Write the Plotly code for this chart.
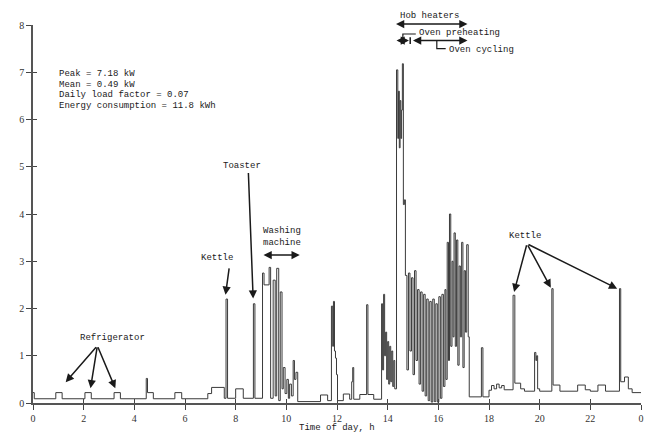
import plotly.graph_objects as go

# ---- data: time of day (h) and power (kW), step profile ----
t_h = [0.00, 0.05, 0.90, 1.15, 2.05, 2.30, 3.20, 3.45, 4.47, 4.52, 4.75, 5.60, 5.87,
       6.90, 7.05, 7.55, 7.62, 7.68, 8.00, 8.30, 8.70, 8.76,
       9.06, 9.12, 9.32, 9.38, 9.48, 9.56, 9.62, 9.70, 9.76, 9.83, 9.88, 9.95, 10.02,
       10.08, 10.13, 10.20, 10.27, 10.32, 10.38, 10.45,
       11.35, 11.63, 11.78, 11.83, 11.86, 11.90, 11.94, 11.98, 12.02,
       12.25, 12.50, 12.58, 12.62, 12.66, 12.90, 13.17, 13.22, 13.45,
       13.76, 13.80, 13.84, 13.88, 13.92, 13.96, 14.00, 14.04, 14.08, 14.12, 14.16,
       14.20, 14.24, 14.28,
       14.35, 14.40, 14.43, 14.46, 14.49, 14.52, 14.55, 14.58, 14.62, 14.66,
       14.70, 14.76, 14.82, 14.88, 14.94, 15.00, 15.06, 15.12, 15.18, 15.24, 15.30,
       15.36, 15.42, 15.48, 15.54, 15.60, 15.66, 15.72, 15.78, 15.84, 15.90, 15.96,
       16.02, 16.08, 16.14, 16.20, 16.26, 16.30,
       16.35, 16.40, 16.44, 16.49, 16.54, 16.58, 16.62, 16.67, 16.72, 16.77, 16.82,
       16.87, 16.92, 16.97, 17.02, 17.07, 17.12, 17.18,
       17.22, 17.70, 17.76,
       18.00, 18.10, 18.20, 18.30, 18.40, 18.50, 18.60, 18.95, 19.02, 19.25, 19.40,
       19.80, 19.85, 19.88, 19.92, 20.00, 20.48, 20.53, 20.80, 21.50, 21.80, 22.00,
       22.30, 22.60, 23.15, 23.20, 23.35, 23.50, 23.65, 24.00]
power_kw = [0.22, 0.09, 0.22, 0.09, 0.22, 0.09, 0.22, 0.09, 0.52, 0.22, 0.09, 0.22, 0.09,
            0.20, 0.33, 0.10, 2.20, 0.10, 0.30, 0.10, 2.10, 0.10,
            2.75, 2.50, 2.87, 0.10, 2.60, 0.15, 2.85, 0.05, 2.35, 0.30, 0.75, 0.20, 0.50,
            0.10, 0.40, 0.15, 0.90, 0.50, 0.65, 0.03,
            0.17, 0.05, 2.05, 1.20, 2.15, 1.10, 0.95, 0.60, 0.05,
            0.19, 0.08, 0.45, 0.75, 0.08, 0.18, 2.08, 0.18, 0.08,
            2.10, 0.70, 2.30, 1.00, 1.50, 0.50, 1.30, 0.40, 1.20, 0.45, 1.10,
            0.35, 0.90, 0.30,
            7.05, 5.60, 6.60, 5.40, 6.40, 5.60, 6.20, 7.18, 4.20, 4.30,
            2.70, 0.70, 2.75, 1.10, 2.65, 0.60, 2.80, 0.90, 2.40, 0.40, 2.35,
            0.25, 2.30, 0.15, 2.20, 0.05, 2.15, 0.02, 2.20, 0.03, 2.10, 0.02,
            2.25, 0.10, 2.30, 0.35, 2.40, 0.50,
            3.40, 0.90, 4.00, 1.20, 3.00, 1.40, 3.60, 1.20, 3.45, 0.80, 2.90,
            1.40, 3.40, 0.75, 2.80, 1.50, 3.35, 1.40,
            0.13, 1.17, 0.13,
            0.27, 0.37, 0.30, 0.40, 0.32, 0.37, 0.28, 2.28, 0.42, 0.30, 0.25,
            1.07, 0.90, 1.00, 0.30, 0.25, 2.42, 0.38, 0.25, 0.38, 0.28, 0.25,
            0.38, 0.25, 2.42, 0.45, 0.55, 0.30, 0.22, 0.22]

x_tick_vals = [0, 2, 4, 6, 8, 10, 12, 14, 16, 18, 20, 22, 24]
x_tick_text = ["0", "2", "4", "6", "8", "10", "12", "14", "16", "18", "20", "22", "0"]
y_tick_vals = [0, 1, 2, 3, 4, 5, 6, 7, 8]

stats_lines = ["Peak = 7.18 kW", "Mean = 0.49 kW", "Daily load factor = 0.07",
               "Energy consumption = 11.8 kWh"]

MONO = "Liberation Mono, Courier New, monospace"
SERIF = "Liberation Serif, Times New Roman, serif"
INK = "#1a1a1a"

fig = go.Figure()
fig.add_trace(go.Scatter(x=t_h, y=power_kw, mode="lines", line_shape="hv",
                         line=dict(color="#3a3a3a", width=1.0), showlegend=False,
                         hoverinfo="skip"))
# empty helper trace so the inner-tick overlay axes are drawn
fig.add_trace(go.Scatter(x=[], y=[], xaxis="x2", yaxis="y2", showlegend=False))

axis_common = dict(showgrid=False, zeroline=False, linecolor="#555555", linewidth=1.5,
                   ticks="outside", ticklen=5, tickwidth=1.2, tickcolor="#444444",
                   tickfont=dict(family=SERIF, size=10, color="#333333"))
# page body has an 8px default margin: size/margins compensate so the plot area
# lands at x 30..643, y 19..403 in the 655x440 window
fig.update_layout(
    width=647, height=432, margin=dict(l=22, r=12, t=11, b=37),
    paper_bgcolor="white", plot_bgcolor="white",
    xaxis=dict(range=[0, 24], tickvals=x_tick_vals, ticktext=x_tick_text,
               showline=True, **axis_common),
    yaxis=dict(range=[0, 8], tickvals=y_tick_vals, showline=True, **axis_common),
    xaxis2=dict(range=[0, 24], overlaying="x", anchor="y", tickvals=x_tick_vals,
                showticklabels=False, ticks="inside", ticklen=4, tickwidth=1.2,
                tickcolor="#444444", showgrid=False, zeroline=False, showline=False),
    yaxis2=dict(range=[0, 8], overlaying="y", anchor="x", tickvals=y_tick_vals,
                showticklabels=False, ticks="inside", ticklen=4, tickwidth=1.2,
                tickcolor="#444444", showgrid=False, zeroline=False, showline=False),
)

ann = []
tf = dict(family=MONO, size=9, color=INK)

# statistics block
for i, s in enumerate(stats_lines):
    ann.append(dict(x=0.94, y=6.96 - i * 0.225, xref="x", yref="y", text=s, showarrow=False,
                    xanchor="left", yanchor="middle", font=tf))

# axis titles
ann.append(dict(x=0.5, y=-0.065, xref="paper", yref="paper", text="Time of day, h",
                showarrow=False, font=tf, xanchor="center", yanchor="middle"))
ann.append(dict(x=-0.8, y=3.56, xref="x", yref="y", text="Power, kW", textangle=-90,
                showarrow=False, font=tf, xanchor="center", yanchor="middle"))

def arrow(x, y, ax, ay, side="end"):
    return dict(x=x, y=y, ax=ax, ay=ay, xref="x", yref="y", axref="x", ayref="y",
                text="", showarrow=True, arrowhead=2, arrowsize=1.1, arrowwidth=1.5,
                arrowcolor=INK, arrowside=side, standoff=0, startstandoff=0)

def label(x, y, s, yref="y"):
    return dict(x=x, y=y, xref="x", yref=yref, text=s, showarrow=False, font=tf,
                xanchor="center", yanchor="middle")

# Refrigerator
ann.append(label(3.15, 1.38, "Refrigerator"))
for tx, ty in [(1.29, 0.44), (2.27, 0.31), (3.25, 0.31)]:
    ann.append(arrow(tx, ty, 2.54, 1.21))
# Kettle (morning)
ann.append(label(7.28, 3.06, "Kettle"))
ann.append(arrow(7.6, 2.29, 7.75, 2.88))
# Toaster
ann.append(label(8.26, 5.02, "Toaster"))
ann.append(arrow(8.69, 2.21, 8.5, 4.9))
# Washing machine
ann.append(label(9.83, 3.52, "Washing<br>machine"))
ann.append(arrow(10.53, 3.13, 9.04, 3.13, side="end+start"))
# Kettle (evening)
ann.append(label(19.42, 3.54, "Kettle"))
for tx, ty in [(18.99, 2.35), (20.44, 2.44), (23.06, 2.42)]:
    ann.append(arrow(tx, ty, 19.5, 3.37))
# Hob heaters (above the top of the axis: paper y, pixel tail)
ann.append(label(15.66, 1.023, "Hob heaters", yref="paper"))
ann.append(dict(x=17.15, y=1.0026, xref="x", yref="paper", ax=-73, ay=0,
                axref="pixel", ayref="pixel", text="", showarrow=True, arrowhead=2,
                arrowsize=1.1, arrowwidth=1.5, arrowcolor=INK, arrowside="end+start",
                standoff=0, startstandoff=0))
# Oven
ann.append(arrow(14.84, 7.67, 14.29, 7.67, side="end+start"))
ann.append(arrow(17.15, 7.67, 14.94, 7.67, side="end+start"))
ann.append(label(16.84, 7.83, "Oven preheating"))
ann.append(label(17.7, 7.48, "Oven cycling"))

fig.update_layout(annotations=ann)

# leader lines for oven labels and separator tick
shapes = [
    dict(type="line", xref="x", yref="y", x0=14.89, x1=14.89, y0=7.6, y1=7.74,
         line=dict(color=INK, width=1.5)),
    dict(type="path", xref="x", yref="y", path="M 14.60 7.67 L 14.60 7.81 L 15.11 7.81",
         line=dict(color=INK, width=1.2)),
    dict(type="path", xref="x", yref="y", path="M 15.94 7.67 L 15.94 7.50 L 16.29 7.50",
         line=dict(color=INK, width=1.2)),
]
fig.update_layout(shapes=shapes)

fig.write_html("out.html")
